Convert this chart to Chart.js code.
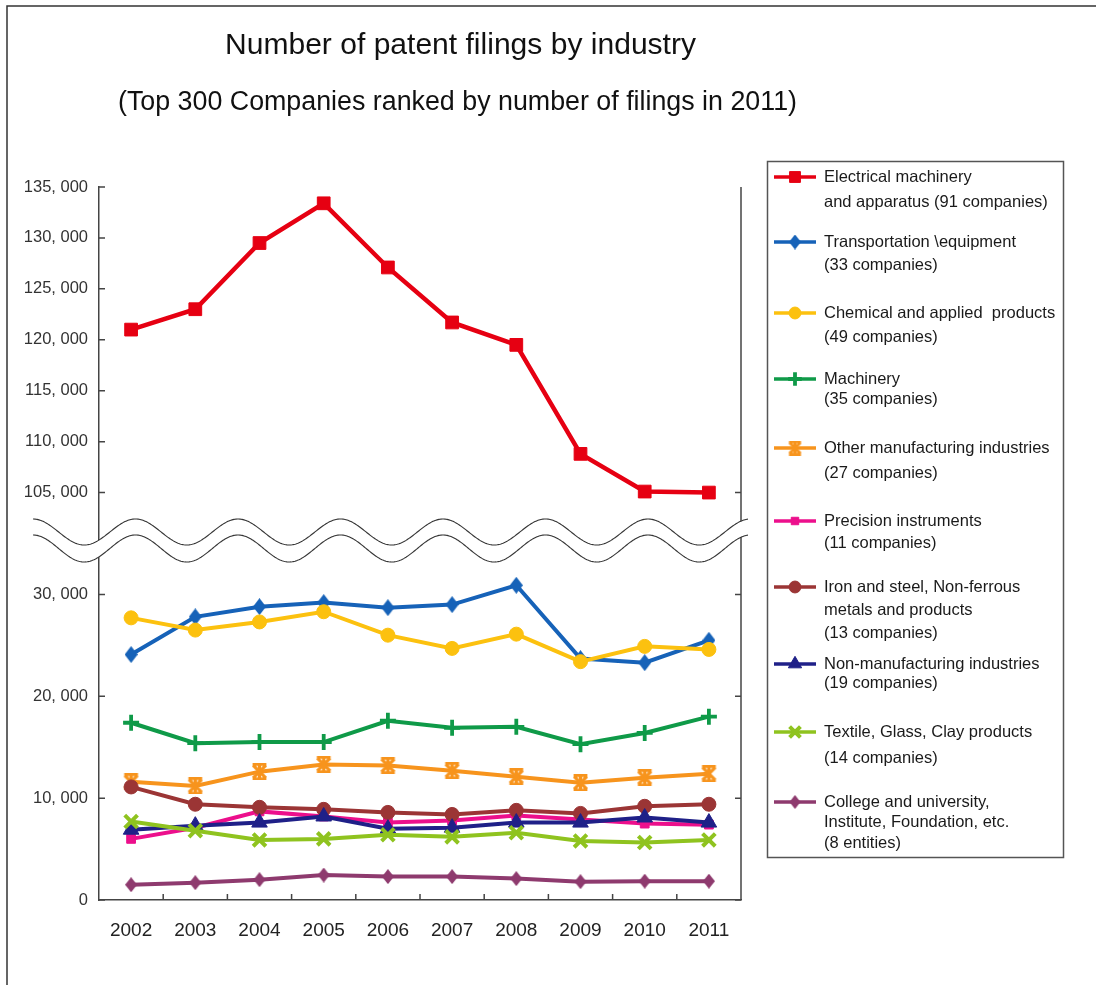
<!DOCTYPE html>
<html>
<head>
<meta charset="utf-8">
<script src="https://cdn.jsdelivr.net/npm/chart.js@4.4.0/dist/chart.umd.min.js"></script>
<style>
html,body{margin:0;padding:0;background:#fff;}
canvas{display:block;}
</style>
</head>
<body>
<canvas id="c" width="1096" height="985"></canvas>
<script>
// ---------- DATA ----------
const years = ['2002','2003','2004','2005','2006','2007','2008','2009','2010','2011'];
const electrical     = [121000,123000,129500,133400,127100,121700,119500,108800,105100,105000];
const transportation = [24100,27800,28800,29200,28700,29000,30900,23700,23300,25500];
const chemical       = [27700,26500,27300,28300,26000,24700,26100,23400,24900,24600];
const machinery      = [17400,15400,15500,15500,17600,16900,17000,15300,16400,18000];
const otherMfg       = [11600,11200,12600,13300,13200,12700,12100,11500,12000,12400];
const precision      = [6000,7100,8700,8200,7600,7800,8300,7900,7500,7400];
const ironSteel      = [11100,9400,9100,8900,8600,8400,8800,8500,9200,9400];
const nonMfg         = [6900,7300,7600,8200,7000,7100,7600,7600,8100,7600];
const textile        = [7700,6800,5900,6000,6400,6200,6600,5800,5650,5900];
const college        = [1500,1700,2000,2450,2300,2300,2100,1800,1850,1850];
const upperTicks = [105000,110000,115000,120000,125000,130000,135000];
const lowerTicks = [0,10000,20000,30000];
const seriesLabels = [
  ['Electrical machinery','and apparatus (91 companies)'],
  ['Transportation \\equipment','(33 companies)'],
  ['Chemical and applied  products','(49 companies)'],
  ['Machinery','(35 companies)'],
  ['Other manufacturing industries','(27 companies)'],
  ['Precision instruments','(11 companies)'],
  ['Iron and steel, Non-ferrous','metals and products','(13 companies)'],
  ['Non-manufacturing industries','(19 companies)'],
  ['Textile, Glass, Clay products','(14 companies)'],
  ['College and university,','Institute, Foundation, etc.','(8 entities)']
];
const titleText = 'Number of patent filings by industry';
const subtitleText = '(Top 300 Companies ranked by number of filings in 2011)';

// ---------- STYLE ----------
const seriesData = [electrical,transportation,chemical,machinery,otherMfg,precision,ironSteel,nonMfg,textile,college];
const colors = ['#e60012','#1662b8','#fcc10f','#0f9a48','#f7941d','#ec0f8c','#9b3535','#1f2088','#8fc31f','#8e3a6e'];
const FONT = '"Liberation Sans", Arial, sans-serif';
const AXIS = '#444';

function diamondImg(color, w, h) {
  const c = document.createElement('canvas');
  c.width = w; c.height = h;
  const g = c.getContext('2d');
  g.fillStyle = color;
  g.beginPath();
  g.moveTo(w / 2, 0); g.lineTo(w, h / 2); g.lineTo(w / 2, h); g.lineTo(0, h / 2);
  g.closePath(); g.fill();
  return c;
}
function asteriskImg(color, s, lw) {
  const c = document.createElement('canvas');
  c.width = s; c.height = s;
  const g = c.getContext('2d');
  g.strokeStyle = color; g.lineWidth = lw; g.lineCap = 'butt';
  const m = lw / 2 + 0.5, e = s - m;
  g.beginPath();
  g.moveTo(m, m); g.lineTo(e, e);
  g.moveTo(e, m); g.lineTo(m, e);
  g.moveTo(s / 2, 0); g.lineTo(s / 2, s);
  g.moveTo(m - 0.5, 1.2); g.lineTo(e + 0.5, 1.2);
  g.moveTo(m - 0.5, s - 1.2); g.lineTo(e + 0.5, s - 1.2);
  g.stroke();
  return c;
}

const pstyles = [
  'rect',
  diamondImg(colors[1], 13, 17),
  'circle',
  'cross',
  asteriskImg(colors[4], 17, 3.2),
  'rect',
  'circle',
  'triangle',
  'crossRot',
  diamondImg(colors[9], 12, 15)
];
const legendStyles = [
  'rect',
  diamondImg(colors[1], 12, 15),
  'circle',
  'cross',
  asteriskImg(colors[4], 15, 3),
  'rect',
  'circle',
  'triangle',
  'crossRot',
  diamondImg(colors[9], 11, 14)
];
const pradius = [9, 8, 7, 8, 8, 6.2, 7, 9, 9, 7.5];
const pborder = [1, 1, 1, 3.8, 1, 1, 1, 1, 4, 1];

const datasets = seriesData.map((d, i) => ({
  label: seriesLabels[i].join(' '),
  data: d,
  yAxisID: i === 0 ? 'yTop' : 'y',
  borderColor: colors[i],
  backgroundColor: colors[i],
  borderWidth: i === 0 ? 4.5 : 4,
  pointStyle: pstyles[i],
  pointRadius: pradius[i],
  pointHoverRadius: pradius[i],
  pointBackgroundColor: colors[i],
  pointBorderColor: colors[i],
  pointBorderWidth: pborder[i],
  tension: 0,
  order: 20 - i
}));

function fmt(v) {
  const s = String(v);
  if (s.length <= 3) return s;
  return s.slice(0, s.length - 3) + ', ' + s.slice(s.length - 3);
}

function scaledText(ctx, text, cx, baseline, font, targetW) {
  ctx.save();
  ctx.font = font;
  const w = ctx.measureText(text).width;
  ctx.translate(cx, baseline);
  ctx.scale(targetW / w, 1);
  ctx.textAlign = 'center';
  ctx.textBaseline = 'alphabetic';
  ctx.fillStyle = '#111';
  ctx.fillText(text, 0, 0);
  ctx.restore();
}

const decor = {
  id: 'decor',
  beforeDraw(chart) {
    const ctx = chart.ctx;
    ctx.save();
    ctx.fillStyle = '#fff';
    ctx.fillRect(0, 0, chart.width, chart.height);
    ctx.strokeStyle = '#333';
    ctx.lineWidth = 1.5;
    ctx.beginPath();
    ctx.moveTo(7, chart.height);
    ctx.lineTo(7, 6);
    ctx.lineTo(chart.width, 6);
    ctx.stroke();
    ctx.restore();
    scaledText(ctx, titleText, 460.5, 54, '29px ' + FONT, 471);
    scaledText(ctx, subtitleText, 457.5, 110, '27px ' + FONT, 679);
  },
  afterDraw(chart) {
    const ctx = chart.ctx;
    const ca = chart.chartArea;
    const yT = chart.scales.yTop, yL = chart.scales.y, xs = chart.scales.x;
    ctx.save();
    ctx.strokeStyle = AXIS;
    ctx.lineWidth = 1.5;
    ctx.beginPath();
    ctx.moveTo(ca.right, ca.top);
    ctx.lineTo(ca.right, ca.bottom);
    ctx.stroke();
    ctx.beginPath();
    yT.ticks.forEach(t => {
      const py = yT.getPixelForValue(t.value);
      ctx.moveTo(ca.left, py); ctx.lineTo(ca.left + 6, py);
    });
    const py105 = yT.getPixelForValue(upperTicks[0]);
    ctx.moveTo(ca.right, py105); ctx.lineTo(ca.right - 6, py105);
    yL.ticks.forEach(t => {
      const py = yL.getPixelForValue(t.value);
      ctx.moveTo(ca.left, py); ctx.lineTo(ca.left + 6, py);
      ctx.moveTo(ca.right, py); ctx.lineTo(ca.right - 6, py);
    });
    for (let i = 0; i < years.length - 1; i++) {
      const px = (xs.getPixelForValue(i) + xs.getPixelForValue(i + 1)) / 2;
      ctx.moveTo(px, ca.bottom); ctx.lineTo(px, ca.bottom - 6);
    }
    ctx.stroke();

    // axis break waves
    const yb = yT.bottom;
    const P = 102.5, x0 = 33, x1 = ca.right + 7;
    const up = x => yb - 11.5 - 13 * Math.cos(2 * Math.PI * (x - x0) / P);
    const lo = x => yb + 5 - 13.5 * Math.cos(2 * Math.PI * (x - x0) / P);
    ctx.beginPath();
    ctx.moveTo(x0, up(x0));
    for (let x = x0; x <= x1; x += 1) ctx.lineTo(x, up(x));
    for (let x = x1; x >= x0; x -= 1) ctx.lineTo(x, lo(x));
    ctx.closePath();
    ctx.fillStyle = '#fff';
    ctx.fill();
    ctx.strokeStyle = '#333';
    ctx.lineWidth = 1.1;
    ctx.beginPath();
    for (let x = x0; x <= x1; x += 1) { if (x === x0) ctx.moveTo(x, up(x)); else ctx.lineTo(x, up(x)); }
    ctx.stroke();
    ctx.beginPath();
    for (let x = x0; x <= x1; x += 1) { if (x === x0) ctx.moveTo(x, lo(x)); else ctx.lineTo(x, lo(x)); }
    ctx.stroke();

    // legend
    ctx.strokeStyle = '#555';
    ctx.lineWidth = 1.5;
    ctx.strokeRect(767.5, 161.5, 296, 696);
    const firstY = [177, 242, 313, 379, 448, 521, 587, 664, 732, 802];
    const gaps = [25, 23, 24, 20, 25, 22, 23, 19, 26, 20.5];
    ctx.font = '16.5px ' + FONT;
    ctx.textAlign = 'left';
    ctx.textBaseline = 'middle';
    seriesLabels.forEach((lines, i) => {
      const y = firstY[i];
      ctx.strokeStyle = colors[i];
      ctx.lineWidth = 3.5;
      ctx.beginPath();
      ctx.moveTo(774, y); ctx.lineTo(816, y);
      ctx.stroke();
      ctx.fillStyle = colors[i];
      ctx.strokeStyle = colors[i];
      ctx.lineWidth = pborder[i];
      Chart.helpers.drawPoint(ctx, {pointStyle: legendStyles[i], radius: pradius[i] * 0.85, rotation: 0, borderWidth: pborder[i]}, 795, y);
      ctx.fillStyle = '#1a1a1a';
      lines.forEach((t, k) => ctx.fillText(t, 824, y + k * gaps[i]));
    });
    ctx.restore();
  }
};

new Chart(document.getElementById('c'), {
  type: 'line',
  data: { labels: years, datasets },
  options: {
    responsive: false,
    animation: false,
    devicePixelRatio: 1,
    layout: { padding: { top: 187, right: 355, bottom: 0, left: 0 } },
    plugins: { legend: { display: false }, tooltip: { enabled: false }, title: { display: false } },
    scales: {
      x: {
        type: 'category',
        offset: true,
        grid: { display: false, drawTicks: false },
        border: { display: true, color: AXIS, width: 1.5 },
        ticks: { padding: 19, autoSkip: false, maxRotation: 0, color: '#222', font: { family: FONT, size: 19 } },
        afterFit(s) { s.height = 85; }
      },
      y: {
        type: 'linear',
        position: 'left',
        stack: 'main',
        stackWeight: 1,
        min: 0,
        max: 35000,
        afterBuildTicks(s) { s.ticks = lowerTicks.map(v => ({ value: v })); },
        grid: { display: false, drawTicks: false },
        border: { display: true, color: AXIS, width: 1.5 },
        ticks: { padding: 11, autoSkip: false, color: '#333', font: { family: FONT, size: 16.5 }, callback: v => fmt(v) },
        afterFit(s) { s.width = 99; }
      },
      yTop: {
        type: 'linear',
        position: 'left',
        stack: 'main',
        stackWeight: 1,
        min: 100000,
        max: 135000,
        afterBuildTicks(s) { s.ticks = upperTicks.map(v => ({ value: v })); },
        grid: { display: false, drawTicks: false },
        border: { display: true, color: AXIS, width: 1.5 },
        ticks: { padding: 11, autoSkip: false, color: '#333', font: { family: FONT, size: 16.5 }, callback: v => fmt(v) },
        afterFit(s) { s.width = 99; }
      }
    }
  },
  plugins: [decor]
});
</script>
</body>
</html>
